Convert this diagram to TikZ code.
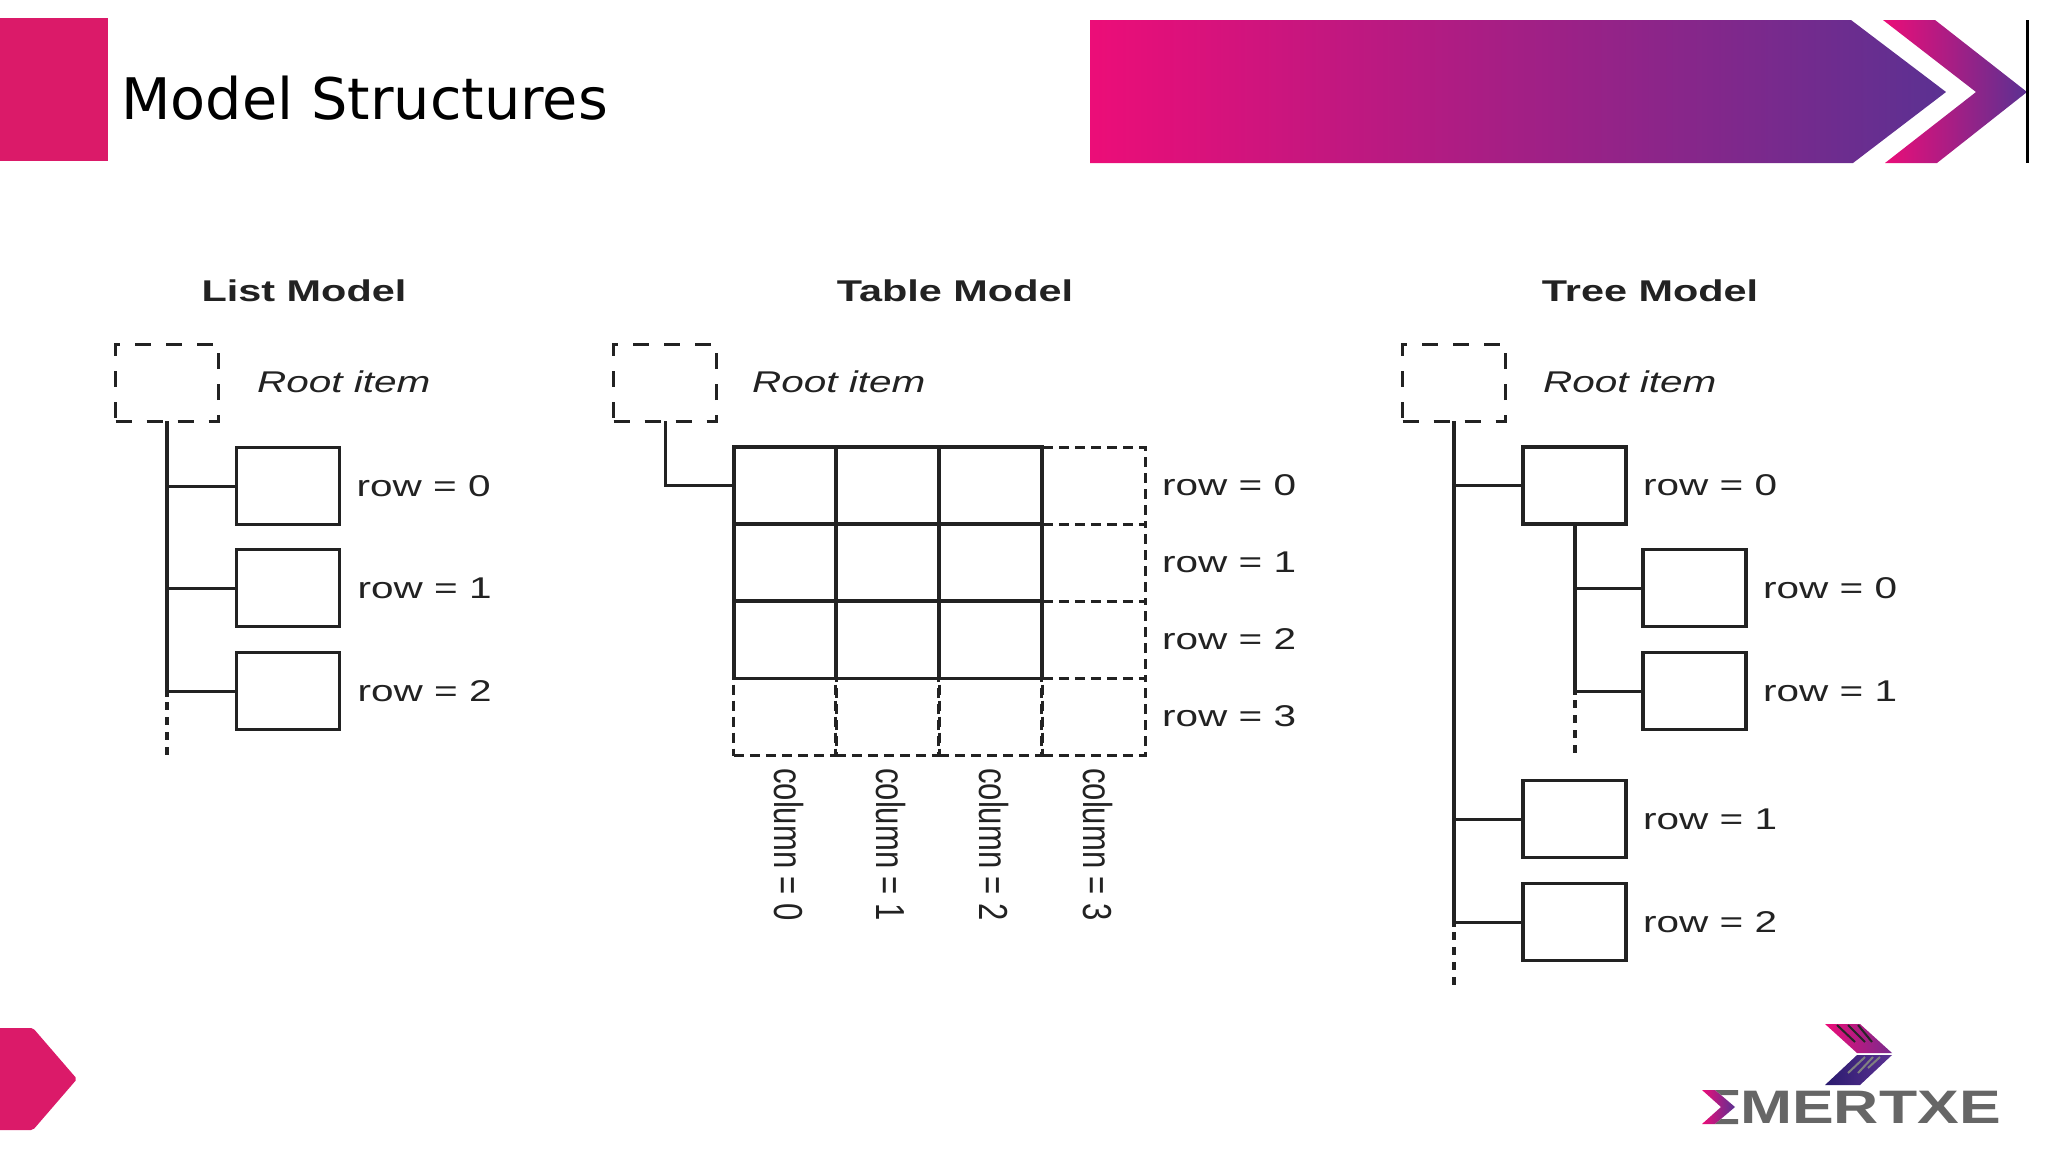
\documentclass[tikz,border=0pt]{standalone}
\usepackage{fontspec}
\setmainfont{Liberation Sans}
\newfontfamily\headfont{DejaVu Sans}
\usepackage{graphicx}
\usetikzlibrary{positioning,calc}
\definecolor{slidepink}{HTML}{DB1A69}
\definecolor{bannerpink}{HTML}{EC0D78}
\definecolor{bannerblue}{HTML}{5B3192}
\definecolor{logonavy}{HTML}{2A1B6E}
\definecolor{logogray}{HTML}{666666}
\definecolor{inkdark}{HTML}{222222}
\newcommand{\widetext}[1]{\scalebox{1.35}[1]{#1}}
\newcommand{\headtext}[1]{\scalebox{1.38}[1]{#1}}
\newcommand{\tallertext}[1]{\scalebox{1.035}[1.35]{#1}}

\begin{document}
\begin{tikzpicture}[
  x=1pt,y=-1pt,
  itembox/.style={rectangle,draw=inkdark,line width=3.5pt,inner sep=0pt,outer sep=0pt,minimum width=103pt,minimum height=77pt},
  rootbox/.style={itembox,line width=3pt,dash pattern=on 16pt off 15pt},
  cellbox/.style={itembox,minimum width=102.5pt},
  sparebox/.style={cellbox,line width=3pt,dash pattern=on 10pt off 6pt},
  wire/.style={draw=inkdark,line width=3pt},
  trunk/.style={draw=inkdark,line width=4pt},
  stub/.style={draw=inkdark,line width=4pt,dash pattern=on 8pt off 7pt},
  heading/.style={font=\fontsize{30}{36}\selectfont\bfseries,text=inkdark,inner sep=0pt},
  rootlabel/.style={font=\fontsize{30}{36}\selectfont\itshape,text=inkdark,inner sep=0pt,anchor=west},
  rowlabel/.style={font=\fontsize{30}{36}\selectfont,text=inkdark,inner sep=0pt,anchor=west},
  collabel/.style={rowlabel,rotate=-90}
  ]
  \useasboundingbox (0,0) rectangle (2048,1152);

  % slide frame
  \fill[slidepink] (0,18) rectangle (108,161);
  \node [font=\fontsize{57.3}{68}\selectfont\headfont,inner sep=0pt,anchor=west] (TTL) at (121,98) {Model Structures};
  \shade[left color=bannerpink,right color=bannerblue] (1090,20) -- (1851,20) -- (1946,92) -- (1853,163) -- (1090,163) -- cycle;
  \shade[left color=bannerpink,right color=bannerblue] (1883,20) -- (1935,20) -- (2027,92) -- (1937,163) -- (1885,163) -- (1976,92) -- cycle;
  \draw[black,line width=3pt] (2027,20) -- (2027,163);
  \fill[slidepink,rounded corners=2pt] (-6,1028) -- (33,1028) -- (77,1079) -- (33,1130) -- (-6,1130) -- cycle;

  % logo
  \shade[left color=bannerpink,right color=bannerblue!80!bannerpink] (1825,1024) -- (1860,1024) -- (1892,1053) -- (1857,1053) -- cycle;
  \shade[left color=logonavy,right color=bannerblue] (1857,1055) -- (1892,1055) -- (1860,1085) -- (1825,1085) -- cycle;
  \draw[black!85,line width=2pt] (1837,1025) -- (1855,1042);
  \draw[black!85,line width=2pt] (1848,1025) -- (1865,1042);
  \draw[black!85,line width=2pt] (1858,1025) -- (1872,1042);
  \draw[gray,line width=2pt] (1848,1073) -- (1865,1057);
  \draw[gray,line width=2pt] (1858,1073) -- (1873,1057);
  \draw[gray,line width=2pt] (1868,1068) -- (1880,1057);
  \shade[left color=bannerpink,right color=bannerblue] (1702,1090) -- (1715,1090) -- (1735,1107) -- (1715,1124) -- (1702,1124) -- (1721,1107) -- cycle;
  \fill[logogray] (1715,1090) -- (1738,1090) -- (1738,1095) -- (1721,1095) -- cycle;
  \fill[logogray] (1721,1119) -- (1738,1119) -- (1738,1124) -- (1715,1124) -- cycle;
  \node [font=\fontsize{47}{56}\selectfont\bfseries,text=logogray,inner sep=0pt,anchor=west] (LGO) at (1740,1107) {\scalebox{1.33}[1]{MERTXE}};

  % list model
  \node [heading] (LH) at (304,291) {\headtext{List Model}};
  \node [rootbox] (LR) at (167,382.5) {};
  \node [rootlabel] (LRT) at (257,382) {\widetext{Root item}};
  \node [itembox] (L0) at (288,486) {};
  \node [itembox] (L1) at (288,588) {};
  \node [itembox] (L2) at (288,691) {};
  \node [rowlabel,right=17pt of L0] (L0T) {\widetext{row = 0}};
  \node [rowlabel,right=18pt of L1] (L1T) {\widetext{row = 1}};
  \node [rowlabel,right=18pt of L2] (L2T) {\widetext{row = 2}};
  \coordinate (LE) at ($(LR.south)+(0,276)$);
  \coordinate (LD) at ($(LR.south)+(0,336)$);
  \draw[trunk] (LR.south) -- (LE);
  \draw[stub] ($(LE)+(0,5)$) -- (LD);
  \draw[wire] (LR.south|-L0) -- (L0);
  \draw[wire] (LR.south|-L1) -- (L1);
  \draw[wire] (LR.south|-L2) -- (L2);

  % table model
  \node [heading] (GH) at (955,291) {\headtext{Table Model}};
  \node [rootbox] (GR) at (665,382.5) {};
  \node [rootlabel] (GRT) at (752,382) {\widetext{Root item}};
  \node [sparebox] (S03) at (1094,485.5) {};
  \node [sparebox] (S13) at (1094,562.5) {};
  \node [sparebox] (S23) at (1094,640) {};
  \node [sparebox] (S33) at (1094,717) {};
  \node [sparebox] (S30) at (785,717) {};
  \node [sparebox] (S31) at (887,717) {};
  \node [sparebox] (S32) at (990.5,717) {};
  \node [cellbox] (C00) at (785,485.5) {};
  \node [cellbox] (C01) at (887,485.5) {};
  \node [cellbox] (C02) at (990.5,485.5) {};
  \node [cellbox] (C10) at (785,562.5) {};
  \node [cellbox] (C11) at (887,562.5) {};
  \node [cellbox] (C12) at (990.5,562.5) {};
  \node [cellbox] (C20) at (785,640) {};
  \node [cellbox] (C21) at (887,640) {};
  \node [cellbox] (C22) at (990.5,640) {};
  \node [rowlabel] (G0T) at (1162,485) {\widetext{row = 0}};
  \node [rowlabel] (G1T) at (1162,562) {\widetext{row = 1}};
  \node [rowlabel] (G2T) at (1162,639) {\widetext{row = 2}};
  \node [rowlabel] (G3T) at (1162,716) {\widetext{row = 3}};
  \node [collabel] (K0T) at (789,768) {\tallertext{column = 0}};
  \node [collabel] (K1T) at (891,768) {\tallertext{column = 1}};
  \node [collabel] (K2T) at (994,768) {\tallertext{column = 2}};
  \node [collabel] (K3T) at (1098,768) {\tallertext{column = 3}};
  \draw[wire] (GR.south) |- (C00.west);

  % tree model
  \node [heading] (TH) at (1650,291) {\headtext{Tree Model}};
  \node [rootbox] (TR) at (1454,382.5) {};
  \node [rootlabel] (TRT) at (1543,382) {\widetext{Root item}};
  \node [itembox] (T0) at (1574.5,485.5) {};
  \node [itembox] (T00) at (1694.5,588) {};
  \node [itembox] (T01) at (1694.5,691) {};
  \node [itembox] (T1) at (1574.5,819) {};
  \node [itembox] (T2) at (1574.5,922) {};
  \node [rowlabel,right=17pt of T0] (T0T) {\widetext{row = 0}};
  \node [rowlabel,right=17pt of T00] (T00T) {\widetext{row = 0}};
  \node [rowlabel,right=17pt of T01] (T01T) {\widetext{row = 1}};
  \node [rowlabel,right=17pt of T1] (T1T) {\widetext{row = 1}};
  \node [rowlabel,right=17pt of T2] (T2T) {\widetext{row = 2}};
  \coordinate (TE) at ($(TR.south)+(0,506)$);
  \coordinate (TD) at ($(TR.south)+(0,568)$);
  \coordinate (UE) at ($(T0.south)+(0,171)$);
  \coordinate (UD) at ($(T0.south)+(0,233)$);
  \draw[trunk] (TR.south) -- (TE);
  \draw[stub] ($(TE)+(0,5)$) -- (TD);
  \draw[trunk] (T0.south) -- (UE);
  \draw[stub] ($(UE)+(0,5)$) -- (UD);
  \draw[wire] (TR.south|-T0) -- (T0);
  \draw[wire] (TR.south|-T1) -- (T1);
  \draw[wire] (TR.south|-T2) -- (T2);
  \draw[wire] (T0.south|-T00) -- (T00);
  \draw[wire] (T0.south|-T01) -- (T01);
\end{tikzpicture}
\end{document}
